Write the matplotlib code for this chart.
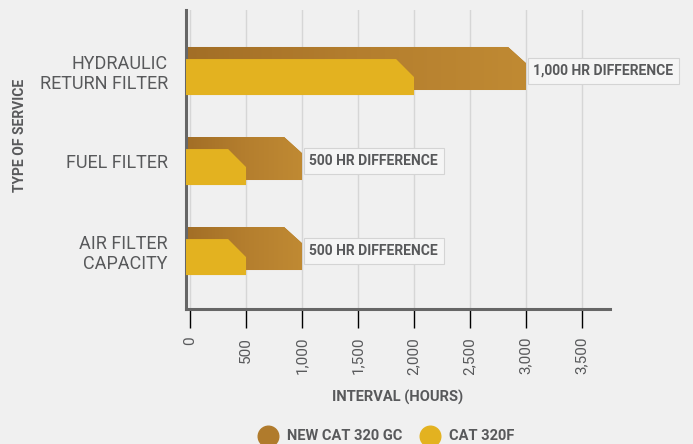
import numpy as np
import matplotlib.pyplot as plt
from matplotlib.patches import Polygon
from matplotlib.colors import LinearSegmentedColormap

plt.rcParams['font.family'] = ['Roboto', 'DejaVu Sans']

categories = ['HYDRAULIC\nRETURN FILTER', 'FUEL FILTER', 'AIR FILTER\nCAPACITY']
gc_hours = [3000, 1000, 1000]
f_hours = [2000, 500, 500]
diff_labels = ['1,000 HR DIFFERENCE', '500 HR DIFFERENCE', '500 HR DIFFERENCE']
ticks = [0, 500, 1000, 1500, 2000, 2500, 3000, 3500]
tick_labels = ['0', '500', '1,000', '1,500', '2,000', '2,500', '3,000', '3,500']

BG = '#f0f0f0'
GC_COL = '#b07b2c'
F_COL = '#e3b220'
TXT = '#58595b'

gc_cmap = LinearSegmentedColormap.from_list('gc', ['#a26e26', '#b47e2e', '#c08a33'])

fig = plt.figure(figsize=(6.93, 4.44), dpi=100, facecolor=BG)
ax = fig.add_axes([186 / 693, 135 / 444, 424 / 693, 299 / 444], facecolor=BG)
xlim = (-36, 3750)
ylim = (-0.644, 2.678)

ypos = [2, 1, 0]
x0 = xlim[0]
cut_x = 160


def bar_shape(y, top, bottom, val, cut_y):
    return Polygon([(x0, y + bottom), (val, y + bottom), (val, y + top - cut_y),
                    (val - cut_x, y + top), (x0, y + top)], closed=True)


grad = np.linspace(0, 1, 256).reshape(1, -1)
for y, gc, f, lab in zip(ypos, gc_hours, f_hours, diff_labels):
    p = bar_shape(y, 0.267, -0.211, gc, 0.18)
    p.set_facecolor(GC_COL)
    p.set_edgecolor('none')
    p.set_zorder(2)
    ax.add_patch(p)
    im = ax.imshow(grad, cmap=gc_cmap, aspect='auto', extent=(x0, gc, y - 0.211, y + 0.267),
                   zorder=2.1, interpolation='bicubic')
    im.set_clip_path(p)
    q = bar_shape(y, 0.133, -0.267, f, 0.2)
    q.set_facecolor(F_COL)
    q.set_edgecolor('none')
    q.set_zorder(3)
    ax.add_patch(q)
    ax.text(gc + 65, y, lab, ha='left', va='center', fontsize=10, fontweight='bold',
            color=TXT, zorder=4, clip_on=False,
            bbox=dict(boxstyle='square,pad=0.4', facecolor='#f5f5f5', edgecolor='#d4d4d4', lw=0.8))

ax.set_xlim(*xlim)
ax.set_ylim(*ylim)
ax.set_xticks(ticks)
ax.set_xticklabels(tick_labels, rotation=90, fontsize=11, color=TXT)
ax.set_yticks(ypos)
ax.set_yticklabels(categories, fontsize=13, color=TXT, linespacing=1.15)
ax.tick_params(axis='y', length=0, pad=13)
ax.tick_params(axis='x', length=14, width=1, color='black', pad=6)
ax.grid(axis='x', color='#d6d6d6', lw=1)
ax.set_axisbelow(True)

for s in ['top', 'right']:
    ax.spines[s].set_visible(False)
for s in ['left', 'bottom']:
    ax.spines[s].set_color('#666666')
    ax.spines[s].set_linewidth(2.2)

ax.set_xlabel('INTERVAL (HOURS)', fontsize=10.5, fontweight='bold', color=TXT, labelpad=11)
fig.text(20 / 693, 1 - 135 / 444, 'TYPE OF SERVICE', rotation=90, ha='center', va='center',
         fontsize=10, fontweight='bold', color=TXT)

h1 = ax.scatter([], [], s=220, color=GC_COL, label='NEW CAT 320 GC')
h2 = ax.scatter([], [], s=220, color=F_COL, label='CAT 320F')
fig.legend(handles=[h1, h2], loc='center', bbox_to_anchor=(384 / 693, 1 - 436 / 444), ncol=2,
           frameon=False, prop={'weight': 'bold', 'size': 10.5},
           handletextpad=0.3, columnspacing=0.9, labelcolor=TXT)

fig.savefig('out.png', dpi=100, facecolor=BG)
